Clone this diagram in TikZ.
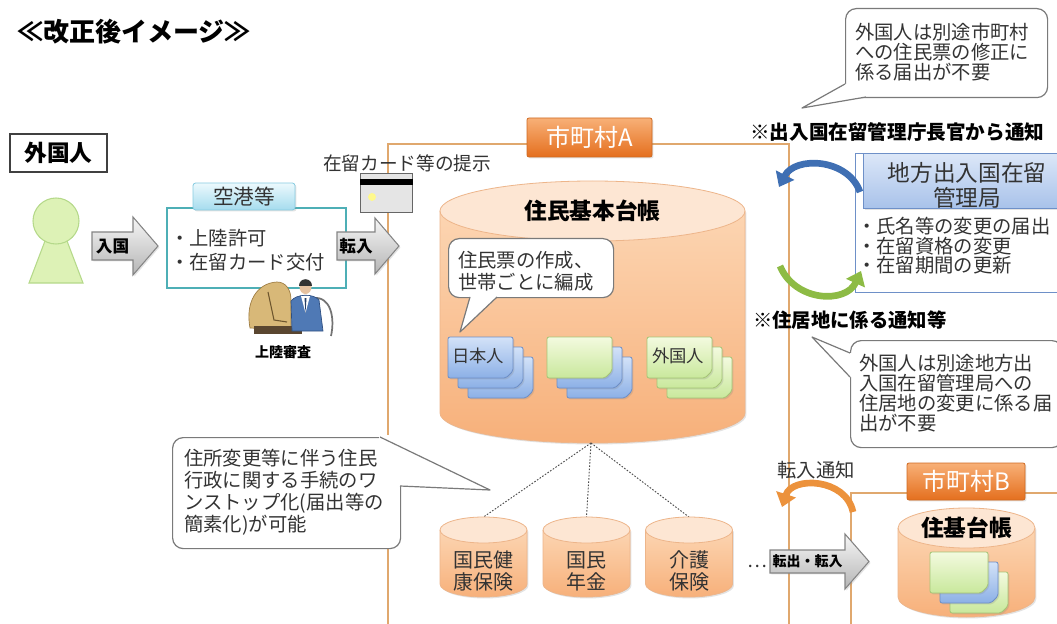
\documentclass[tikz,border=0pt]{standalone}
\usepackage{fontspec}
\setmainfont{Noto Sans CJK JP}
\usetikzlibrary{calc,shadows,arrows.meta}

\newcommand\setfs[2]{\fontsize{#1}{#2}\selectfont}

\definecolor{ink}{HTML}{333333}
\definecolor{frameOr}{HTML}{E0A86E}
\definecolor{labOrTop}{HTML}{F8B077}
\definecolor{labOrBot}{HTML}{E46F1E}
\definecolor{labOrLine}{HTML}{CF6A22}
\definecolor{cylTop}{HTML}{FDE6D3}
\definecolor{cylBodyTop}{HTML}{FCD5B2}
\definecolor{cylBodyBot}{HTML}{F7B07A}
\definecolor{cylLine}{HTML}{EDB58A}
\definecolor{blueTop}{HTML}{D3E2F8}
\definecolor{blueBot}{HTML}{8CB0E6}
\definecolor{blueLine}{HTML}{6D8EC6}
\definecolor{greenTop}{HTML}{F3FADF}
\definecolor{greenBot}{HTML}{C9E89C}
\definecolor{greenLine}{HTML}{A5C575}
\definecolor{tealLine}{HTML}{4EAFB6}
\definecolor{cyanTop}{HTML}{ECF9FD}
\definecolor{cyanBot}{HTML}{A5DCEE}
\definecolor{cyanLine}{HTML}{86CBE0}
\definecolor{grayTop}{HTML}{F6F6F6}
\definecolor{grayBot}{HTML}{B5B5B5}
\definecolor{grayLine}{HTML}{858585}
\definecolor{callLine}{HTML}{7A7A7A}
\definecolor{bureauTop}{HTML}{DCE7F8}
\definecolor{bureauBot}{HTML}{A8C2EA}
\definecolor{bureauLine}{HTML}{6E90C8}
\definecolor{arcBlue}{HTML}{3F6FB3}
\definecolor{arcGreen}{HTML}{8DBB45}
\definecolor{arcOrange}{HTML}{EC923C}
\definecolor{personFill}{HTML}{DDF2B6}
\definecolor{personLine}{HTML}{B5D98A}
\definecolor{monTan}{HTML}{D8B878}
\definecolor{monBrown}{HTML}{9C7A40}
\definecolor{deskDark}{HTML}{5A4630}
\definecolor{suitBlue}{HTML}{4F79B5}
\definecolor{suitLine}{HTML}{2F4F80}
\definecolor{skin}{HTML}{E6C2A0}

\tikzset{
  txt/.style={inner sep=0pt, text=ink},
  soft/.style={drop shadow={shadow xshift=1.1pt, shadow yshift=-1.1pt, opacity=0.22}},
  callbox/.style={draw=callLine, line width=0.9pt, fill=white, rounded corners=8pt, inner sep=0pt},
  calltail/.style={draw=callLine, line width=0.9pt, line join=round},
  blockarrow/.style={draw=grayLine, line width=0.8pt, top color=grayTop, bottom color=grayBot, soft},
  orlabel/.style={draw=labOrLine, line width=0.6pt, top color=labOrTop, bottom color=labOrBot, rounded corners=1.5pt, text=white, inner sep=0pt, soft},
  cityframe/.style={draw=frameOr, line width=1.4pt, fill=white, inner sep=0pt, soft},
  bluecard/.style={draw=blueLine, line width=0.6pt, top color=blueTop, bottom color=blueBot, rounded corners=1.5pt, soft},
  greencard/.style={draw=greenLine, line width=0.6pt, top color=greenTop, bottom color=greenBot, rounded corners=1.5pt, soft},
  drumbody/.style={top color=cylBodyTop, bottom color=cylBodyBot},
  feed/.style={draw=black!70, line width=0.7pt, dash pattern=on 1.2pt off 1.2pt},
  curvearrow/.style={line width=5pt, -{Triangle[length=10pt,width=15pt]}},
  pics/drum/.style n args={3}{code={%
    \path[drumbody, soft] (-#1,0) -- (-#1,#3) arc[start angle=180,end angle=0,x radius=#1,y radius=#2] -- (#1,0) -- cycle;
    \path[draw=cylLine, line width=0.6pt, fill=cylTop] (0,0) ellipse[x radius=#1,y radius=#2];
    \draw[cylLine, line width=0.6pt] (-#1,0) -- (-#1,#3) arc[start angle=180,end angle=0,x radius=#1,y radius=#2] -- (#1,0);
  }},
  pics/card/.style n args={3}{code={%
    \path[#1] (0,0) -- (#2,0) -- (#2,#3-7) -- (#2-7,#3) -- (0,#3) -- cycle;
  }},
}

\begin{document}
\begin{tikzpicture}[x=0.75pt,y=-0.75pt]
\useasboundingbox (0,0) rectangle (1057,624);
\clip (0,0) rectangle (1057,624);

% heading
\node[txt, text=black, anchor=west, font=\bfseries\setfs{19.5}{22}] (title) at (17,32) {≪改正後イメージ≫};

% municipality frames
\node[cityframe, minimum width=300.75pt, minimum height=420pt, anchor=north west] (cityA) at (387,143) {};
\node[cityframe, minimum width=180pt, minimum height=120pt, anchor=north west] (cityB) at (850,492) {};

% basic resident register of municipality A
\pic (regA) at (592.5,211) {drum={152.5}{30}{202}};
\node[txt, text=black, font=\bfseries\setfs{17}{18}] (regAname) at (592.5,211) {住民基本台帳};

% note inside the register
\node[callbox, minimum width=123.75pt, minimum height=44.25pt, anchor=north west] (noteA) at (448,238) {};
\coordinate (noteAtip) at (460,332);
\fill[white] (470,297) -- (noteAtip) -- (497,297) -- (497,294) -- (470,294) -- cycle;
\draw[calltail] (470,297) -- (noteAtip) -- (497,297);
\node[txt, anchor=west, align=left, font=\setfs{14.5}{16.5}] (noteAtext) at (458,271) {住民票の作成、\\世帯ごとに編成};

% resident cards
\pic at (468,357) {card={bluecard}{65}{41}};
\pic at (458,347) {card={bluecard}{65}{41}};
\pic at (448,337) {card={bluecard}{65}{41}};
\node[txt, font=\setfs{13}{14}] (cardJP) at (478,356) {日本人};
\pic at (567,357) {card={bluecard}{65}{41}};
\pic at (557,347) {card={bluecard}{65}{41}};
\pic at (547,337) {card={greencard}{65}{41}};
\pic at (667,357) {card={greencard}{65}{41}};
\pic at (657,347) {card={greencard}{65}{41}};
\pic at (647,337) {card={greencard}{65}{41}};
\node[txt, font=\setfs{13}{14}] (cardFR) at (678,356) {外国人};

% links to the related registers
\coordinate (hub) at (591,443);
\coordinate (nhiTop) at (483.5,517);
\coordinate (penTop) at (586.5,517);
\coordinate (careTop) at (689,517);
\draw[feed] (hub) -- (nhiTop);
\draw[feed] (hub) -- (penTop);
\draw[feed] (hub) -- (careTop);

\pic (nhi) at (483.5,530) {drum={43.5}{13}{54}};
\pic (pen) at (586.5,530) {drum={43.5}{13}{54}};
\pic (care) at (689,530) {drum={43.5}{13}{54}};
\node[txt, align=center, font=\setfs{15}{16.5}] (nhiName) at (483.5,571) {国民健\\康保険};
\node[txt, align=center, font=\setfs{15}{16.5}] (penName) at (586.5,571) {国民\\年金};
\node[txt, align=center, font=\setfs{15}{16.5}] (careName) at (689,571) {介護\\保険};
\node[txt, font=\setfs{14}{15}] (more) at (757,566) {…};

% municipality tags
\node[orlabel, minimum width=93.75pt, minimum height=29.25pt, font=\setfs{18}{20}] (cityAtag) at (589.5,137.5) {市町村A};
\node[orlabel, minimum width=88.5pt, minimum height=27.75pt, font=\setfs{18}{20}] (cityBtag) at (966,481.5) {市町村B};

% foreign resident
\node[draw=black!75, line width=1.1pt, fill=white, minimum width=72.75pt, minimum height=28.5pt, inner sep=0pt, text=black, font=\bfseries\setfs{17}{18}, soft] (alien) at (58.5,153) {外国人};
\path[draw=personLine, fill=personFill, line width=0.8pt] (56,212) -- (83,283) -- (29,283) -- cycle;
\path[draw=personLine, fill=personFill, line width=0.8pt] (56,221) circle[radius=23];

% entry
\path[blockarrow] (92,232) -- (133,232) -- (133,217) -- (158,246) -- (133,275) -- (133,260) -- (92,260) -- cycle;
\node[txt, text=black, font=\bfseries\setfs{12.5}{13}] (entryLbl) at (112.5,246) {入国};

% airport
\node[draw=tealLine, line width=1.4pt, fill=white, minimum width=134.25pt, minimum height=60pt, inner sep=0pt, anchor=north west] (airport) at (166,207) {};
\node[draw=cyanLine, line width=0.6pt, top color=cyanTop, bottom color=cyanBot, rounded corners=2pt, minimum width=76.5pt, minimum height=20.25pt, inner sep=0pt, text=ink, font=\setfs{15.5}{16}, soft] (airportTag) at (244,196.5) {空港等};
\node[txt, anchor=west, align=left, font=\setfs{14.5}{18}] (airportText) at (170,250) {・上陸許可\\・在留カード交付};

% landing examination clip art
\path[fill=monTan, draw=monBrown, line width=0.5pt] (250,328) .. controls (245,302) and (257,283) .. (277,282) .. controls (286,282) and (291,290) .. (291,300) -- (291,330) -- cycle;
\draw[monBrown!70!black, line width=0.8pt] (268,292) -- (274,320) -- (287,322);
\fill[deskDark] (254,326) rectangle (302,334);
\draw[black!55, line width=1.3pt] (313,298) .. controls (331,296) and (335,318) .. (331,336);
\path[fill=suitBlue, draw=suitLine, line width=0.5pt] (291,301) .. controls (296,294) and (313,293) .. (319,300) -- (323,331) -- (292,331) -- cycle;
\fill[white] (301,296) -- (310,296) -- (305.5,313) -- cycle;
\fill[suitLine!80!black] (304.5,298) -- (306.5,298) -- (305.5,313) -- cycle;
\fill[skin] (305.5,287) ellipse[x radius=6, y radius=7];
\fill[black!80] (299,286) .. controls (299,277) and (312,277) .. (312,286) -- cycle;
\node[txt, text=black, font=\bfseries\setfs{10.5}{11}] (exam) at (283,352) {上陸審査};

% move-in
\path[blockarrow] (337,232) -- (375,232) -- (375,218) -- (399,246) -- (375,274) -- (375,260) -- (337,260) -- cycle;
\node[txt, text=black, font=\bfseries\setfs{12.5}{13}] (moveinLbl) at (356,246) {転入};

% residence card
\node[txt, anchor=west, font=\setfs{14}{15}] (cardText) at (323,163) {在留カード等の提示};
\node[draw=black!60, line width=0.7pt, fill=black!10, minimum width=39pt, minimum height=29.25pt, inner sep=0pt, anchor=north west] (card) at (360,173) {};
\fill[black] ($(card.north west)+(0,6)$) rectangle ($(card.north east)+(0,12)$);
\fill[yellow!45] ($(card.west)+(12,4)$) circle[radius=4];

% regional immigration bureau
\node[txt, text=black, anchor=west, font=\bfseries\setfs{14.7}{15}] (notice1) at (750,132) {※出入国在留管理庁長官から通知};
\node[draw=bureauLine, line width=0.9pt, fill=white, minimum width=165pt, minimum height=104.25pt, inner sep=0pt, anchor=north west] (bureau) at (855,153) {};
\node[draw=bureauLine, line width=0.6pt, top color=bureauTop, bottom color=bureauBot, minimum width=159pt, minimum height=41.25pt, inner sep=0pt, anchor=north west, soft] (bureauHead) at (863,153) {};
\node[txt, align=center, font=\setfs{17}{18.75}] (bureauName) at (967,185) {地方出入国在留\\管理局};
\node[txt, anchor=west, align=left, font=\setfs{14.5}{14.6}] (bureauText) at (857,246) {・氏名等の変更の届出\\・在留資格の変更\\・在留期間の更新};

\coordinate (blueFrom) at (860,192);
\coordinate (blueTo) at (779,187);
\draw[curvearrow, arcBlue] (blueFrom) .. controls (848,158) and (795,156) .. (blueTo);
\coordinate (greenFrom) at (780,266);
\coordinate (greenTo) at (861,271);
\draw[curvearrow, arcGreen] (greenFrom) .. controls (795,302) and (846,304) .. (greenTo);

\node[txt, text=black, anchor=west, font=\bfseries\setfs{14.5}{15}] (notice2) at (753,320) {※住居地に係る通知等};

% note on the residence notification
\node[callbox, minimum width=159pt, minimum height=80.25pt, anchor=north west] (noteR) at (850,340) {};
\coordinate (noteRtip) at (812,337);
\fill[white] (850,353) -- (noteRtip) -- (850,377) -- (853,377) -- (853,353) -- cycle;
\draw[calltail] (850,353) -- (noteRtip) -- (850,377);
\node[txt, anchor=west, align=left, font=\setfs{14.5}{15}] (noteRtext) at (859,393) {外国人は別途地方出\\入国在留管理局への\\住居地の変更に係る届\\出が不要};

% note on the resident record
\node[callbox, minimum width=151.5pt, minimum height=66.75pt, anchor=north west] (noteT) at (845,8) {};
\coordinate (noteTtip) at (802,108);
\fill[white] (845,84) -- (noteTtip) -- (866,97) -- (866,93) -- (850,84) -- cycle;
\draw[calltail] (845,84) -- (noteTtip) -- (866,97);
\node[txt, anchor=west, align=left, font=\setfs{14.5}{15}] (noteTtext) at (855,52) {外国人は別途市町村\\への住民票の修正に\\係る届出が不要};

% note on the one-stop service
\node[callbox, minimum width=171pt, minimum height=83.25pt, anchor=north west] (noteL) at (172,437) {};
\coordinate (noteLtip) at (490,490);
\fill[white] (380,437) -- (noteLtip) -- (400,486) -- cycle;
\fill[white] (379,435) rectangle (402,486);
\draw[calltail] (380,437) -- (noteLtip) -- (400,486);
\node[txt, anchor=west, align=left, font=\setfs{14.5}{16.5}] (noteLtext) at (184,492.5) {住所変更等に伴う住民\\行政に関する手続のワ\\ンストップ化(届出等の\\簡素化)が可能};

% move-in notification between municipalities
\node[txt, font=\setfs{14.5}{15}] (noticeMove) at (816,470) {転入通知};
\coordinate (orFrom) at (853,512);
\coordinate (orTo) at (782,507);
\draw[curvearrow, arcOrange] (orFrom) .. controls (846,478) and (792,476) .. (orTo);

\path[blockarrow] (770,550) -- (845,550) -- (845,534) -- (869,561.5) -- (845,589) -- (845,573) -- (770,573) -- cycle;
\node[txt, text=black, font=\bfseries\setfs{10.5}{11}] (moveLbl) at (807.5,561.5) {転出・転入};

% register of municipality B
\pic (regB) at (966.5,528) {drum={68.5}{20}{69}};
\node[txt, text=black, font=\bfseries\setfs{17}{18}] (regBname) at (966.5,528) {住基台帳};
\pic at (950,572) {card={greencard}{58}{41}};
\pic at (940,562) {card={bluecard}{58}{41}};
\pic at (930,552) {card={greencard}{58}{41}};

\end{tikzpicture}
\end{document}
